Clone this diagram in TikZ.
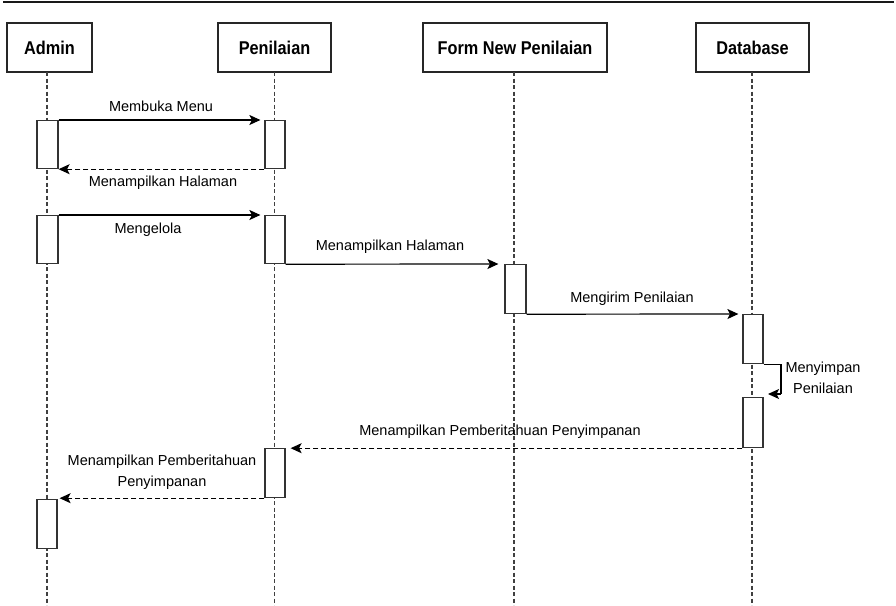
\documentclass[tikz,border=0pt]{standalone}
\usepackage{fontspec}
\setmainfont{Liberation Sans}
\newfontfamily\headfont[FakeStretch=0.88]{Liberation Sans}
\usetikzlibrary{arrows.meta}
\begin{document}
\begin{tikzpicture}[x=1pt,y=-1pt,
  head/.style={draw=black!85,line width=1.3pt,fill=white,inner sep=0pt,
    font=\headfont\bfseries\fontsize{18.5}{20}\selectfont},
  act/.style={draw=black!80,line width=1.2pt,fill=white,inner sep=0pt,
    minimum width=20pt,minimum height=48pt,anchor=north},
  life/.style={draw=black!75,line width=1.2pt,dash pattern=on 4pt off 2.5pt},
  msg/.style={draw=black,line width=1.2pt,-{Stealth[length=11pt,width=10pt,inset=2.5pt]}},
  ret/.style={msg,dash pattern=on 5pt off 3pt},
  lbl/.style={font=\fontsize{14.5}{21}\selectfont,inner sep=0pt,align=center}]
\useasboundingbox (0,0) rectangle (896,605);

% top rule
\draw[line width=2.5pt,black!90] (3,2) -- (894,2);

% participants
\node[head,minimum width=85pt,minimum height=49pt] (admin) at (49.5,47.5) {Admin};
\node[head,minimum width=113pt,minimum height=49pt] (pen) at (274.5,47.5) {Penilaian};
\node[head,minimum width=184pt,minimum height=49pt] (form) at (515,47.5) {Form New Penilaian};
\node[head,minimum width=113pt,minimum height=49pt] (db) at (752.5,47.5) {Database};

% lifelines
\coordinate (adminEnd) at (47,605);
\coordinate (penEnd) at (274.5,605);
\coordinate (formEnd) at (514,605);
\coordinate (dbEnd) at (752,605);
\draw[life] (47,72) -- (adminEnd);
\draw[life] (274.5,72) -- (penEnd);
\draw[life] (514,72) -- (formEnd);
\draw[life] (752,72) -- (dbEnd);

% activations
\node[act,minimum width=21pt] (a1) at (47.5,120) {};
\node[act] (p1) at (275,120) {};
\node[act,minimum width=21pt] (a2) at (47.5,215) {};
\node[act] (p2) at (275,215) {};
\node[act,minimum width=21pt,minimum height=49pt] (f1) at (515.5,264) {};
\node[act,minimum height=49pt] (d1) at (753,314) {};
\node[act,minimum height=50pt] (d2) at (753,397) {};
\node[act,minimum height=49pt] (p3) at (275,448) {};
\node[act,minimum height=49pt] (a3) at (47,499) {};

% messages
\draw[msg,shorten >=4pt] (a1.north east) -- (p1.north west);
\draw[ret] (p1.south west) -- (a1.south east);
\draw[msg,shorten >=4pt] (a2.north east) -- (p2.north west);
\draw[msg,shorten >=6pt] (p2.south east) -- (f1.north west);
\draw[msg,shorten >=4pt] (f1.south east) -- (d1.north west);
\coordinate (selfTurn) at (781,394);
\coordinate (selfEnd) at (768,394);
\draw[line width=1.2pt] (d1.south east) -| (selfTurn);
\draw[msg] (selfTurn) -- (selfEnd);
\draw[ret,shorten >=5pt] (d2.south west) -- (p3.east |- d2.south west);
\draw[ret,shorten >=2pt] (p3.south west) -- (a3.north east |- p3.south west);

% message labels
\node[lbl] (l1) at (161,106) {Membuka Menu};
\node[lbl] (l2) at (163,183) {Menampilkan Halaman};
\node[lbl] (l3) at (148,230) {Mengelola};
\node[lbl] (l4) at (390,247) {Menampilkan Halaman};
\node[lbl] (l5) at (632,299) {Mengirim Penilaian};
\node[lbl] (l6) at (823,378) {Menyimpan\\Penilaian};
\node[lbl] (l7) at (500,432) {Menampilkan Pemberitahuan Penyimpanan};
\node[lbl] (l8) at (162,472) {Menampilkan Pemberitahuan\\Penyimpanan};
\end{tikzpicture}
\end{document}
